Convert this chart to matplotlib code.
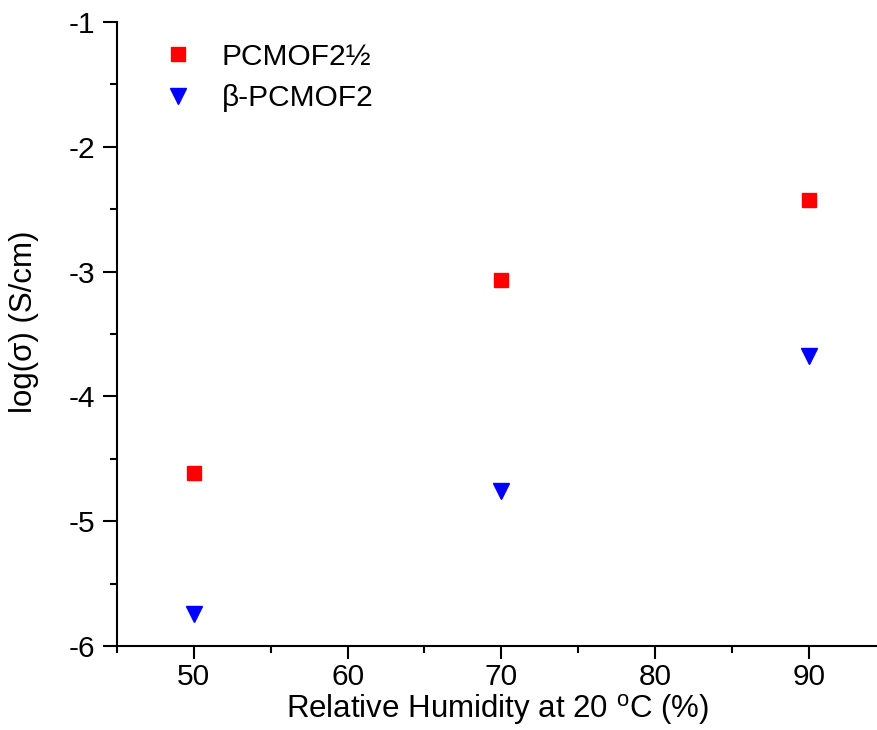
import matplotlib
matplotlib.use("Agg")
import matplotlib.pyplot as plt
from matplotlib.ticker import MultipleLocator

plt.rcParams["font.family"] = ["Liberation Sans", "DejaVu Sans"]
plt.rcParams["mathtext.fontset"] = "custom"
plt.rcParams["mathtext.rm"] = "Liberation Sans"

# Data
humidity = [50, 70, 90]
pcmof2_half = [-4.61, -3.07, -2.43]
beta_pcmof2 = [-5.74, -4.76, -3.68]
series_labels = ["PCMOF2½", "β-PCMOF2"]

fig = plt.figure(figsize=(8.78, 7.30), dpi=100)
ax = fig.add_axes([117 / 878, 84 / 730, 761 / 878, 624 / 730])

ax.plot(humidity, pcmof2_half, "s", color="red", markersize=10, label=series_labels[0])
ax.plot(humidity, beta_pcmof2, "v", color="blue", markersize=12, label=series_labels[1])

ax.set_xlim(45, 94.5)
ax.set_ylim(-6, -1)
ax.xaxis.set_minor_locator(MultipleLocator(5))
ax.yaxis.set_minor_locator(MultipleLocator(0.5))
ax.set_xticks([50, 60, 70, 80, 90])
ax.set_xticklabels(["50", "60", "70", "80", "90"])
ax.set_yticks([-6, -5, -4, -3, -2, -1])
ax.set_yticklabels(["-6", "-5", "-4", "-3", "-2", "-1"])

for side in ["top", "right"]:
    ax.spines[side].set_visible(False)
for side in ["left", "bottom"]:
    ax.spines[side].set_linewidth(1.5)

ax.tick_params(axis="x", which="major", direction="out", length=9, width=1.5, labelsize=21.5, pad=3)
ax.tick_params(axis="y", which="major", direction="out", length=10, width=1.5, labelsize=21.5, pad=6)
ax.tick_params(which="minor", direction="out", length=5, width=1.5)

ax.set_xlabel(r"Relative Humidity at 20 $^{\rm o}$C (%)", fontsize=22.5, labelpad=1)
ax.set_ylabel("log(σ) (S/cm)", fontsize=22.5)
ax.yaxis.set_label_coords(-0.102, 0.52)

ax.legend(loc="upper left", bbox_to_anchor=(0.013, 1.0), frameon=False, fontsize=21.5,
          handletextpad=0.47, labelspacing=0.45, numpoints=1, borderaxespad=0.3)

fig.savefig("out.png", dpi=100)
